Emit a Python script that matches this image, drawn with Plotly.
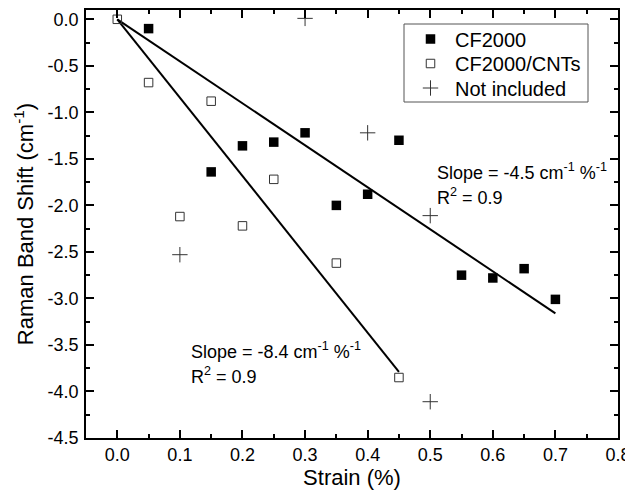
import plotly.graph_objects as go

# ---- data ----
cf2000_x = [0.05, 0.15, 0.20, 0.25, 0.30, 0.35, 0.40, 0.45, 0.55, 0.60, 0.65, 0.70]
cf2000_y = [-0.10, -1.64, -1.36, -1.32, -1.22, -2.00, -1.88, -1.30, -2.75, -2.78, -2.68, -3.01]

cnt_x = [0.00, 0.05, 0.10, 0.15, 0.20, 0.25, 0.35, 0.45]
cnt_y = [0.00, -0.68, -2.12, -0.88, -2.22, -1.72, -2.62, -3.85]

excl_x = [0.10, 0.30, 0.40, 0.50, 0.50]
excl_y = [-2.53, 0.01, -1.22, -2.11, -4.11]

fit_cf2000_x = [0.0, 0.70]
fit_cf2000_y = [0.0, -3.16]
fit_cnt_x = [0.0, 0.45]
fit_cnt_y = [0.0, -3.79]

x_ticks = [0.0, 0.1, 0.2, 0.3, 0.4, 0.5, 0.6, 0.7, 0.8]
x_ticklabels = ["0.0", "0.1", "0.2", "0.3", "0.4", "0.5", "0.6", "0.7", "0.8"]
y_ticks = [0.0, -0.5, -1.0, -1.5, -2.0, -2.5, -3.0, -3.5, -4.0, -4.5]
y_ticklabels = ["0.0", "-0.5", "-1.0", "-1.5", "-2.0", "-2.5", "-3.0", "-3.5", "-4.0", "-4.5"]

FONT = "Arial, 'Liberation Sans', sans-serif"

# plot area in page pixels (page has 8px body margin)
PL, PR, PT, PB = 86, 618, 10, 438


def px_x(p):
    return (p - PL) / (PR - PL)


def px_y(p):
    return 1 - (p - PT) / (PB - PT)


fig = go.Figure()
fig.add_trace(go.Scatter(x=fit_cf2000_x, y=fit_cf2000_y, mode="lines",
                         line=dict(color="black", width=2), showlegend=False))
fig.add_trace(go.Scatter(x=fit_cnt_x, y=fit_cnt_y, mode="lines",
                         line=dict(color="black", width=2), showlegend=False))
fig.add_trace(go.Scatter(x=cf2000_x, y=cf2000_y, mode="markers", name="CF2000",
                         legend="legend",
                         marker=dict(symbol="square", size=9.5, color="black",
                                     line=dict(width=0))))
fig.add_trace(go.Scatter(x=cnt_x, y=cnt_y, mode="markers", name="CF2000/CNTs",
                         legend="legend2",
                         marker=dict(symbol="square-open", size=8.5, color="#333333",
                                     line=dict(width=1, color="#333333"))))
fig.add_trace(go.Scatter(x=excl_x, y=excl_y, mode="markers", name="Not included",
                         legend="legend3",
                         marker=dict(symbol="cross-thin", size=11, color="#333333",
                                     line=dict(width=1, color="#333333"))))

ann_font = dict(size=18, color="black", family=FONT)
for (ax, ay, txt) in [
    (0.509, -1.64, "Slope = -4.5 cm<sup>-1</sup> %<sup>-1</sup>"),
    (0.509, -1.905, "R<sup>2</sup> = 0.9"),
    (0.116, -3.558, "Slope = -8.4 cm<sup>-1</sup> %<sup>-1</sup>"),
    (0.116, -3.826, "R<sup>2</sup> = 0.9"),
]:
    fig.add_annotation(x=ax, y=ay, xref="x", yref="y", xanchor="left", yanchor="middle",
                       align="left", showarrow=False, text=txt, font=ann_font,
                       borderpad=0)

axis_common = dict(showline=True, linecolor="black", linewidth=1.5, mirror="allticks",
                   ticks="inside", ticklen=8, tickwidth=1.5, tickcolor="black",
                   showgrid=False, zeroline=False, automargin=False,
                   tickfont=dict(size=18, color="black", family=FONT))

fig.update_xaxes(range=[-0.05, 0.8], tickvals=x_ticks, ticktext=x_ticklabels,
                 minor=dict(tickvals=[0.05, 0.15, 0.25, 0.35, 0.45, 0.55, 0.65, 0.75],
                            ticks="inside", ticklen=4, tickwidth=1.5, tickcolor="black"),
                 title=dict(text="Strain (%)", font=dict(size=22, color="black", family=FONT),
                            standoff=0),
                 **axis_common)
fig.update_yaxes(range=[-4.5, 0.1], tickvals=y_ticks, ticktext=y_ticklabels,
                 ticklabelstandoff=2,
                 minor=dict(tickvals=[-0.25, -0.75, -1.25, -1.75, -2.25, -2.75, -3.25, -3.75, -4.25],
                            ticks="inside", ticklen=4, tickwidth=1.5, tickcolor="black"),
                 title=dict(text="Raman Band Shift (cm<sup>-1</sup>)",
                            font=dict(size=22, color="black", family=FONT), standoff=8),
                 **axis_common)

leg_common = dict(xanchor="left", yanchor="middle", font=dict(size=20, color="black", family=FONT),
                  borderwidth=0, bgcolor="rgba(0,0,0,0)", itemwidth=39)

fig.update_layout(
    width=625, height=491,
    margin=dict(l=PL - 8, r=633 - PR, t=PT - 8, b=499 - PB, autoexpand=False),
    paper_bgcolor="white", plot_bgcolor="white",
    font=dict(family=FONT, color="black"),
    legend=dict(x=px_x(406), y=px_y(39), **leg_common),
    legend2=dict(x=px_x(406), y=px_y(63.5), **leg_common),
    legend3=dict(x=px_x(406), y=px_y(88), **leg_common),
    shapes=[dict(type="rect", xref="paper", yref="paper",
                 x0=px_x(404), x1=px_x(588), y0=px_y(102), y1=px_y(24),
                 line=dict(color="#555555", width=1), fillcolor="white", layer="below")],
)

fig.write_html("out.html")
